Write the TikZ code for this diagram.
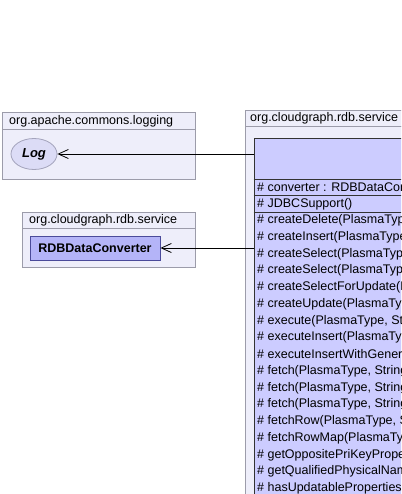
\documentclass[tikz,border=0pt]{standalone}
\usepackage{fontspec}
\setmainfont{Liberation Sans}
\usepackage{xcolor}
\definecolor{pkgFill}{HTML}{EEEEFA}
\definecolor{pkgLine}{HTML}{9C9CAA}
\definecolor{ifaceFill}{HTML}{DCDCF6}
\definecolor{ifaceLine}{HTML}{A4A4BC}
\definecolor{refFill}{HTML}{B4B4F8}
\definecolor{refLine}{HTML}{4A4A9A}
\definecolor{classFill}{HTML}{CCCCFF}
\usetikzlibrary{arrows.meta,positioning,shapes.geometric}

\tikzset{
  pkgbox/.style={fill=pkgFill, draw=pkgLine, line width=0.8pt},
  pkglabel/.style={anchor=west, inner sep=0pt, font=\fontsize{12.5}{14}\selectfont},
  member/.style={anchor=west, inner sep=0pt, font=\fontsize{12.5}{14}\selectfont},
  depends/.style={draw=black, line width=0.8pt, -{Straight Barb[length=10pt,width=9pt]}},
}

\begin{document}
\begin{tikzpicture}[x=1pt,y=-1pt]
  \useasboundingbox (0,0) rectangle (401,494);
  \clip (0,0) rectangle (401,494);
  \fill[white] (0,0) rectangle (401,494);
  % org.apache.commons.logging
  \filldraw[pkgbox] (2.5,112.5) rectangle (195.5,129.5);
  \filldraw[pkgbox] (2.5,129.5) rectangle (195.5,179.5);
  \node[pkglabel] (logpkg) at (9,121) {org.apache.commons.logging};
  \node[ellipse, fill=ifaceFill, draw=ifaceLine, line width=0.8pt, minimum width=46pt, minimum height=31pt, inner sep=0pt,
        font=\fontsize{13}{15}\selectfont\bfseries\itshape] (log) at (34,154) {Log};
  % org.cloudgraph.rdb.service (left)
  \filldraw[pkgbox] (22.5,212.5) rectangle (195.5,228.5);
  \filldraw[pkgbox] (22.5,228.5) rectangle (195.5,267.5);
  \node[pkglabel] (convpkg) at (29,220.5) {org.cloudgraph.rdb.service};
  \node[rectangle, fill=refFill, draw=refLine, line width=0.8pt, minimum width=130pt, minimum height=24pt, inner sep=0pt,
        font=\fontsize{12.5}{14}\selectfont\bfseries] (conv) at (95,248) {RDBDataConverter};
  % org.cloudgraph.rdb.service (right)
  \filldraw[pkgbox] (245.5,110.5) rectangle (440,126.5);
  \filldraw[pkgbox] (245.5,126.5) rectangle (440,560);
  \node[pkglabel] (svcpkg) at (250,118.5) {org.cloudgraph.rdb.service};
  \node[rectangle, fill=classFill, draw=black!80, line width=0.8pt, anchor=north west,
        minimum width=200pt, minimum height=400pt, inner sep=0pt] (support) at (253.5,138.5) {};
  \draw[black!80, line width=0.8pt] (253.5,179.5) -- +(200,0);
  \draw[black!80, line width=0.8pt] (253.5,195.75) -- +(200,0);
  \draw[black!80, line width=0.8pt] (253.5,212) -- +(200,0);
  \node[member] (attr) at (257,187.5) {\# converter : RDBDataConverter};
  \node[member] (ctor) at (257,204) {\# JDBCSupport()};
  \foreach \op [count=\i from 0] in {createDelete(PlasmaType, createInsert(PlasmaType, createSelect(PlasmaType,
      createSelect(PlasmaType, createSelectForUpdate(PlasmaType, createUpdate(PlasmaType, {execute(PlasmaType, String},
      executeInsert(PlasmaType, executeInsertWithGenerated, {fetch(PlasmaType, String}, {fetch(PlasmaType, String},
      {fetch(PlasmaType, String}, {fetchRow(PlasmaType, String}, fetchRowMap(PlasmaType, getOppositePriKeyProperty,
      getQualifiedPhysicalName, hasUpdatableProperties}
    \node[member] (op\i) at (257,{220.4+\i*16.75}) {\# \op};
  % dependencies
  \draw[depends] (support.west |- log) -- (log);
  \draw[depends] (support.west |- conv) -- (conv);
\end{tikzpicture}
\end{document}
